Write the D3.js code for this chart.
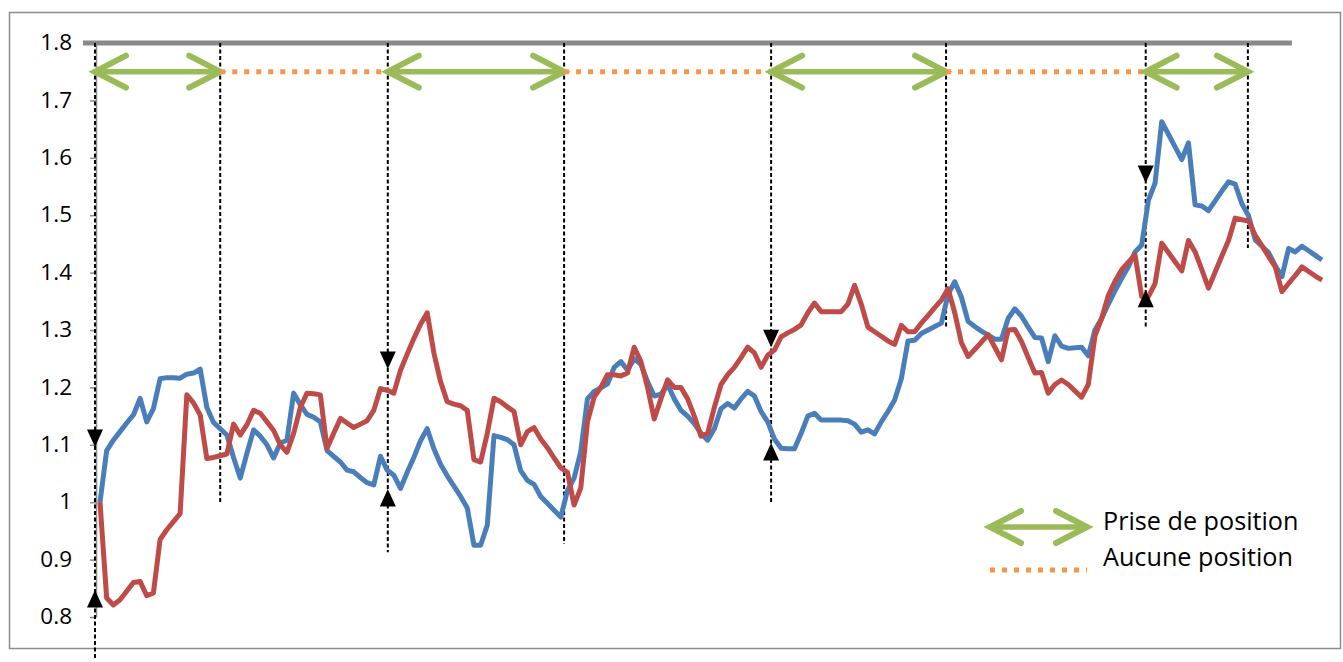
<!DOCTYPE html>
<html>
<head>
<meta charset="utf-8">
<script src="https://cdn.jsdelivr.net/npm/d3@7"></script>
<style>
  body { margin: 0; background: #fff; }
  svg { display: block; }
</style>
</head>
<body>
<div id="chart"></div>
<script>

// set the dimensions of the picture
var width = 1343,
    height = 662;

// values (one point per period)
var blueValues = [
  1.00, 1.09, 1.108, 1.123, 1.138, 1.152, 1.181, 1.14, 1.163, 1.215,
  1.217, 1.217, 1.216, 1.223, 1.225, 1.232, 1.165, 1.139, 1.128, 1.117,
  1.078, 1.042, 1.085, 1.126, 1.115, 1.10, 1.077, 1.103, 1.108, 1.19,
  1.17, 1.153, 1.148, 1.14, 1.09, 1.08, 1.07, 1.056, 1.053, 1.043,
  1.034, 1.03, 1.08, 1.056, 1.047, 1.024, 1.052, 1.078, 1.107, 1.128,
  1.093, 1.066, 1.046, 1.028, 1.010, 0.99, 0.925, 0.925, 0.96, 1.116,
  1.113, 1.109, 1.10, 1.055, 1.038, 1.031, 1.010, 0.998, 0.986, 0.974,
  1.02, 1.042, 1.088, 1.18, 1.193, 1.199, 1.206, 1.235, 1.245, 1.23,
  1.25, 1.24, 1.21, 1.185, 1.188, 1.205, 1.18, 1.16, 1.15, 1.137,
  1.12, 1.108, 1.128, 1.163, 1.172, 1.164, 1.18, 1.193, 1.185, 1.158,
  1.14, 1.11, 1.094, 1.093, 1.093, 1.12, 1.15, 1.155, 1.143, 1.143,
  1.143, 1.143, 1.142, 1.136, 1.122, 1.126, 1.119, 1.14, 1.158, 1.178,
  1.215, 1.281, 1.282, 1.294, 1.30, 1.306, 1.312, 1.362, 1.384, 1.357,
  1.315, 1.306, 1.298, 1.291, 1.284, 1.284, 1.32, 1.337, 1.324, 1.305,
  1.287, 1.286, 1.245, 1.29, 1.272, 1.268, 1.269, 1.27, 1.255, 1.30,
  1.32, 1.345, 1.368, 1.39, 1.41, 1.436, 1.448, 1.526, 1.556, 1.663,
  1.641, 1.619, 1.597, 1.626, 1.518, 1.516, 1.508, 1.525, 1.542, 1.558,
  1.554, 1.52, 1.499, 1.457, 1.446, 1.435, 1.412, 1.393, 1.442, 1.436,
  1.446, 1.438, 1.43, 1.422
];

var redValues = [
  1.00, 0.833, 0.821, 0.83, 0.845, 0.86, 0.862, 0.837, 0.842, 0.935,
  0.952, 0.966, 0.98, 1.187, 1.173, 1.152, 1.076, 1.078, 1.081, 1.084,
  1.136, 1.117, 1.135, 1.16, 1.155, 1.14, 1.125, 1.10, 1.087, 1.12,
  1.165, 1.19, 1.189, 1.187, 1.094, 1.12, 1.146, 1.138, 1.13, 1.136,
  1.142, 1.16, 1.198, 1.195, 1.19, 1.23, 1.258, 1.285, 1.31, 1.33,
  1.26, 1.21, 1.175, 1.171, 1.168, 1.16, 1.074, 1.07, 1.12, 1.181,
  1.175, 1.166, 1.158, 1.10, 1.123, 1.13, 1.11, 1.095, 1.077, 1.06,
  1.052, 0.995, 1.025, 1.14, 1.183, 1.20, 1.222, 1.222, 1.22, 1.225,
  1.27, 1.245, 1.20, 1.145, 1.18, 1.213, 1.20, 1.20, 1.18, 1.15,
  1.115, 1.12, 1.165, 1.205, 1.222, 1.235, 1.252, 1.27, 1.26, 1.235,
  1.256, 1.265, 1.288, 1.295, 1.301, 1.309, 1.33, 1.347, 1.332, 1.332,
  1.332, 1.332, 1.345, 1.378, 1.345, 1.305, 1.297, 1.289, 1.281, 1.275,
  1.308, 1.297, 1.297, 1.312, 1.325, 1.339, 1.352, 1.372, 1.33, 1.278,
  1.254, 1.266, 1.279, 1.292, 1.27, 1.248, 1.30, 1.301, 1.28, 1.252,
  1.225, 1.226, 1.19, 1.205, 1.213, 1.205, 1.194, 1.183, 1.205, 1.29,
  1.32, 1.36, 1.385, 1.405, 1.418, 1.431, 1.358, 1.358, 1.381, 1.451,
  1.435, 1.419, 1.403, 1.456, 1.436, 1.405, 1.373, 1.401, 1.429, 1.456,
  1.495, 1.492, 1.490, 1.465, 1.447, 1.428, 1.410, 1.367, 1.381, 1.395,
  1.410, 1.402, 1.394, 1.387
];

// categories are just the period numbers (no labels on the x axis)
var periods = d3.range(blueValues.length);

var tickValues = [0.8, 0.9, 1.0, 1.1, 1.2, 1.3, 1.4, 1.5, 1.6, 1.7, 1.8];
var tickLabels = ["0.8", "0.9", "1", "1.1", "1.2", "1.3", "1.4", "1.5", "1.6", "1.7", "1.8"];

// period positions where a position is opened / closed
var switchPoints = [-0.75, 18, 43.1, 69.5, 100.5, 126.7, 156.6, 171.9];
// value where each dashed guide stops at the bottom
var guideBottoms = [0.725, 1.0, 0.913, 0.927, 1.0, 1.303, 1.303, 1.443];
// tip of the arrowheads pointing down / up on the guides
var downTips = [1.096, 1.232, 1.27, 1.556];
var upTips = [0.847, 1.023, 1.103, 1.37];
var signalIndex = [0, 2, 4, 6];

var bandLevel = 1.75;
var legendLabels = ["Prise de position", "Aucune position"];

var green = "#9BBB59",
    orange = "#F79646";

var svg = d3.select("#chart")
    .append("svg")
    .attr("width", width)
    .attr("height", height);

// scales
var x = d3.scaleLinear()
    .domain([0, periods.length - 1])
    .range([100, 1322]);

var y = d3.scaleLinear()
    .domain([0.8, 1.8])
    .range([617, 43]);

// chart frame
svg.append("rect")
    .attr("x", 9.5)
    .attr("y", 12.5)
    .attr("width", 1331)
    .attr("height", 636)
    .attr("fill", "none")
    .attr("stroke", "#8c8c8c")
    .attr("stroke-width", 1.5);

// y axis
var yAxis = d3.axisLeft(y)
    .tickValues(tickValues)
    .tickFormat(function(d, i) { return tickLabels[i]; })
    .tickSize(6)
    .tickSizeOuter(0)
    .tickPadding(18);

var gy = svg.append("g")
    .attr("transform", "translate(96,0)")
    .call(yAxis);

gy.select(".domain").attr("stroke", "#8c8c8c").attr("stroke-width", 1.5);
gy.selectAll(".tick line").attr("stroke", "#8c8c8c").attr("stroke-width", 1.5);
gy.selectAll(".tick text")
    .attr("fill", "#000")
    .attr("dy", "0.3em")
    .style("font-family", "'Open Sans', sans-serif")
    .style("font-size", "22.5px");

// the thick grey line on top of the plot (1.8)
svg.append("line")
    .attr("x1", x(-2.55))
    .attr("x2", x(178.5))
    .attr("y1", y(1.8))
    .attr("y2", y(1.8))
    .attr("stroke", "#898989")
    .attr("stroke-width", 5);

// dashed guides
svg.selectAll(".guide")
    .data(switchPoints)
    .enter()
    .append("line")
    .attr("class", "guide")
    .attr("x1", function(d) { return x(d); })
    .attr("x2", function(d) { return x(d); })
    .attr("y1", y(1.8))
    .attr("y2", function(d, i) { return y(guideBottoms[i]); })
    .attr("stroke", "#000")
    .attr("stroke-width", 2)
    .attr("stroke-dasharray", "4,2.5");

// series
var line = d3.line()
    .x(function(d, i) { return x(periods[i]); })
    .y(function(d) { return y(d); });

svg.append("path")
    .datum(blueValues)
    .attr("d", line)
    .attr("fill", "none")
    .attr("stroke", "#4A7EBB")
    .attr("stroke-width", 5)
    .attr("stroke-linejoin", "round");

svg.append("path")
    .datum(redValues)
    .attr("d", line)
    .attr("fill", "none")
    .attr("stroke", "#BE4B48")
    .attr("stroke-width", 5)
    .attr("stroke-linejoin", "round");

// black arrowheads on the guides
function triangle(px, py, dir) {
    // dir = 1 points down (tip at bottom), -1 points up
    var h = 17.5, w = 8;
    return "M" + px + "," + py +
        "L" + (px - w) + "," + (py - dir * h) +
        "L" + (px + w) + "," + (py - dir * h) + "Z";
}

svg.selectAll(".down")
    .data(signalIndex)
    .enter()
    .append("path")
    .attr("class", "down")
    .attr("d", function(d, i) { return triangle(x(switchPoints[d]), y(downTips[i]), 1); })
    .attr("fill", "#000");

svg.selectAll(".up")
    .data(signalIndex)
    .enter()
    .append("path")
    .attr("class", "up")
    .attr("d", function(d, i) { return triangle(x(switchPoints[d]), y(upTips[i]), -1); })
    .attr("fill", "#000");

// double arrow drawing
function doubleArrow(g, x1, x2, yy) {
    var ax = 31, ay = 16;
    g.append("line")
        .attr("x1", x1).attr("x2", x2)
        .attr("y1", yy).attr("y2", yy)
        .attr("stroke", green)
        .attr("stroke-width", 5.5);
    g.append("path")
        .attr("d", "M" + (x1 + ax) + "," + (yy - ay) + "L" + x1 + "," + yy + "L" + (x1 + ax) + "," + (yy + ay))
        .attr("fill", "none")
        .attr("stroke", green)
        .attr("stroke-width", 6)
        .attr("stroke-linecap", "round")
        .attr("stroke-linejoin", "miter");
    g.append("path")
        .attr("d", "M" + (x2 - ax) + "," + (yy - ay) + "L" + x2 + "," + yy + "L" + (x2 - ax) + "," + (yy + ay))
        .attr("fill", "none")
        .attr("stroke", green)
        .attr("stroke-width", 6)
        .attr("stroke-linecap", "round")
        .attr("stroke-linejoin", "miter");
}

function dottedLine(g, x1, x2, yy) {
    g.append("line")
        .attr("x1", x1).attr("x2", x2)
        .attr("y1", yy).attr("y2", yy)
        .attr("stroke", orange)
        .attr("stroke-width", 5)
        .attr("stroke-dasharray", "5,7");
}

// bands at the top: green when a position is held, orange otherwise
var bands = svg.append("g");
for (var i = 0; i < switchPoints.length - 1; i++) {
    var a = x(switchPoints[i]),
        b = x(switchPoints[i + 1]);
    if (i % 2 === 0) {
        doubleArrow(bands, a, b, y(bandLevel));
    } else {
        dottedLine(bands, a, b, y(bandLevel));
    }
}

// legend
var legend = svg.append("g");
doubleArrow(legend, 990, 1087, 527);
dottedLine(legend, 990, 1087, 570);

legend.selectAll("text")
    .data(legendLabels)
    .enter()
    .append("text")
    .attr("x", 1103)
    .attr("y", function(d, i) { return 530 + i * 36; })
    .text(function(d) { return d; })
    .style("font-family", "'Open Sans', sans-serif")
    .style("font-size", "25.2px")
    .attr("fill", "#000");

</script>
</body>
</html>
